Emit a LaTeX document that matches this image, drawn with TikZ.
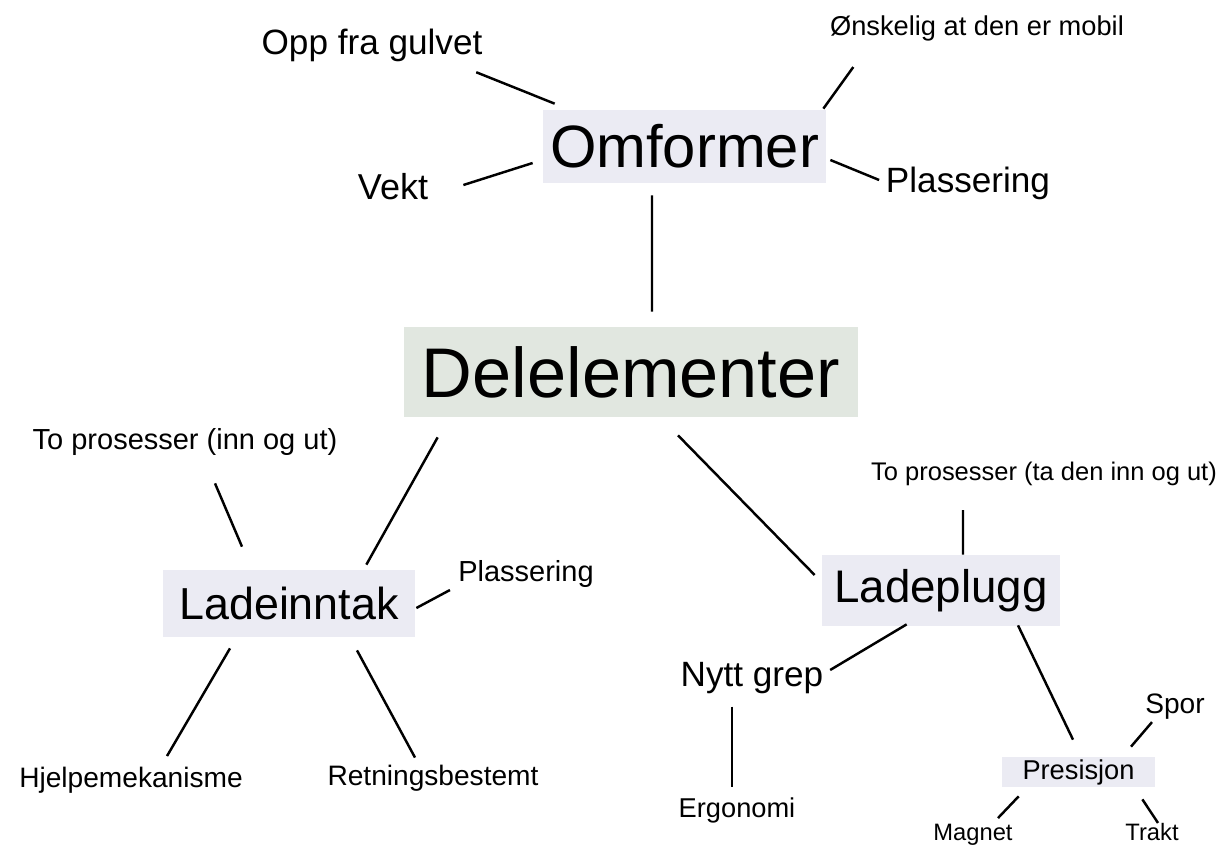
\documentclass[tikz,border=0pt]{standalone}
\usepackage{fontspec}
\setmainfont{Liberation Sans}
\usetikzlibrary{calc}
\definecolor{boxgreen}{HTML}{E1E7E0}
\definecolor{boxblue}{HTML}{EBEBF3}
\newcommand{\fsz}[1]{\fontsize{#1}{#1}\selectfont}

\begin{document}
\begin{tikzpicture}[
  lbl/.style={inner sep=0pt},
  box/.style={fill=boxblue, inner sep=0pt},
  line/.style={line width=1.4pt}
]
\useasboundingbox (0,0) rectangle (24.46,-16.94);

%% boxes
\node[box, minimum width=5.66cm, minimum height=1.46cm, font=\fsz{34}] (omf) at (13.69,-2.93) {Omformer};
\node[box, fill=boxgreen, minimum width=9.08cm, minimum height=1.8cm, font=\fsz{40}] (del) at (12.62,-7.44) {Delelementer};
\node[box, minimum width=5.04cm, minimum height=1.34cm, font=\fsz{25.5}] (ladi) at (5.78,-12.07) {Ladeinntak};
\node[box, minimum width=4.76cm, minimum height=1.42cm, font=\fsz{26}] (ladp) at (18.82,-11.81) {Ladeplugg};
\node[box, minimum width=3.06cm, minimum height=0.6cm, font=\fsz{15.5}] (pres) at (21.57,-15.44) {Presisjon};

%% labels
\node[lbl, font=\fsz{20}] (opp) at (7.44,-0.90) {Opp fra gulvet};
\node[lbl, font=\fsz{15.5}] (ons) at (19.54,-0.56) {Ønskelig at den er mobil};
\node[lbl, font=\fsz{20.5}] (vekt) at (7.86,-3.74) {Vekt};
\node[lbl, font=\fsz{20}] (plas1) at (19.36,-3.66) {Plassering};
\node[lbl, font=\fsz{16.5}] (toinn) at (3.70,-8.84) {To prosesser (inn og ut)};
\node[lbl, font=\fsz{16.5}] (plas2) at (10.52,-11.48) {Plassering};
\node[lbl, font=\fsz{16}] (hjelp) at (2.62,-15.60) {Hjelpemekanisme};
\node[lbl, font=\fsz{16}] (retn) at (8.66,-15.56) {Retningsbestemt};
\node[lbl, font=\fsz{14.5}] (tota) at (20.88,-9.48) {To prosesser (ta den inn og ut)};
\node[lbl, font=\fsz{20}] (nytt) at (15.04,-13.56) {Nytt grep};
\node[lbl, font=\fsz{15.5}] (ergo) at (14.74,-16.20) {Ergonomi};
\node[lbl, font=\fsz{16}] (spor) at (23.50,-14.14) {Spor};
\node[lbl, font=\fsz{13.5}] (magnet) at (19.46,-16.70) {Magnet};
\node[lbl, font=\fsz{13.5}] (trakt) at (23.04,-16.64) {Trakt};

%% Omformer
\draw[line] ([shift={(-0.13,-0.21)}]opp.south east) -- ([shift={(0.24,0.12)}]omf.north west);
\draw[line] ([shift={(0.47,-0.52)}]ons.south west) -- ([shift={(-0.06,0.02)}]omf.north east);
\draw[line] ([shift={(0.7,0.04)}]vekt.east) -- ([shift={(-0.2,-0.33)}]omf.west);
\draw[line] ([shift={(0.08,-0.27)}]omf.east) -- ([shift={(-0.13,0.06)}]plas1.west);
\draw[line] ([shift={(-0.65,-0.24)}]omf.south) -- ([shift={(0.42,0.3)}]del.north);

%% Delelementer
\draw[line] ([shift={(0.68,-0.4)}]del.south west) -- ([shift={(-0.98,0.1)}]ladi.north east);
\draw[line] ([shift={(0.94,-0.36)}]del.south) -- ([shift={(-0.14,0.31)}]ladp.west);

%% Ladeinntak
\draw[line] ([shift={(0.6,-0.55)}]toinn.south) -- ([shift={(-0.94,0.46)}]ladi.north);
\draw[line] ([shift={(0.02,-0.09)}]ladi.east) -- ([shift={(-0.16,-0.32)}]plas2.west);
\draw[line] ([shift={(-1.18,-0.22)}]ladi.south) -- ([shift={(0.72,0.21)}]hjelp.north);
\draw[line] ([shift={(1.36,-0.26)}]ladi.south) -- ([shift={(-0.36,0.14)}]retn.north);

%% Ladeplugg
\draw[line] ([shift={(-1.62,-0.48)}]tota.south) -- ([shift={(0.44,0)}]ladp.north);
\draw[line] ([shift={(1.7,0.04)}]ladp.south west) -- ([shift={(0.13,0.16)}]nytt.east);
\draw[line] ([shift={(-0.4,-0.25)}]nytt.south) -- ([shift={(-0.1,0.19)}]ergo.north);
\draw[line] ([shift={(1.54,0.02)}]ladp.south) -- ([shift={(-0.11,0.34)}]pres.north);

%% Presisjon
\draw[line] ([shift={(1.05,0.2)}]pres.north) -- ([shift={(-0.46,-0.04)}]spor.south);
\draw[line] ([shift={(0.34,-0.18)}]pres.south west) -- ([shift={(0.5,0.12)}]magnet.north);
\draw[line] ([shift={(-0.26,-0.24)}]pres.south east) -- ([shift={(0.12,0)}]trakt.north);
\end{tikzpicture}
\end{document}
